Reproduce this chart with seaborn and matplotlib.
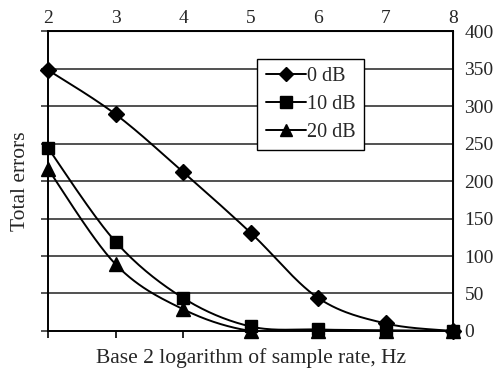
import numpy as np
import pandas as pd
import seaborn as sns
import matplotlib.pyplot as plt
from matplotlib.lines import Line2D

# Values
log_rate = [2, 3, 4, 5, 6, 7, 8]
errors_0db = [348, 289, 212, 131, 44, 10, 0]
errors_10db = [244, 119, 44, 6, 2, 1, 0]
errors_20db = [216, 89, 29, 0, 0, 0, 0]
series_names = ["0 dB", "10 dB", "20 dB"]
y_ticks = [0, 50, 100, 150, 200, 250, 300, 350, 400]

sns.set_style("white")
plt.rcParams["font.family"] = ["Liberation Serif", "DejaVu Serif"]


def smooth(xs, ys, n=30):
    # Excel-style smoothed line: cubic bezier segments with 1/6 tangents
    xs = np.asarray(xs, float)
    ys = np.asarray(ys, float)
    px = np.concatenate([[xs[0]], xs, [xs[-1]]])
    py = np.concatenate([[ys[0]], ys, [ys[-1]]])
    out_x, out_y = [], []
    t = np.linspace(0, 1, n)
    for i in range(1, len(px) - 2):
        x0, x1, x2, x3 = px[i - 1], px[i], px[i + 1], px[i + 2]
        y0, y1, y2, y3 = py[i - 1], py[i], py[i + 1], py[i + 2]
        c1x, c1y = x1 + (x2 - x0) / 6, y1 + (y2 - y0) / 6
        c2x, c2y = x2 - (x3 - x1) / 6, y2 - (y3 - y1) / 6
        bx = (1 - t) ** 3 * x1 + 3 * (1 - t) ** 2 * t * c1x + 3 * (1 - t) * t ** 2 * c2x + t ** 3 * x2
        by = (1 - t) ** 3 * y1 + 3 * (1 - t) ** 2 * t * c1y + 3 * (1 - t) * t ** 2 * c2y + t ** 3 * y2
        out_x.extend(bx)
        out_y.extend(by)
    return np.array(out_x), np.array(out_y)


df = pd.DataFrame({
    "rate": log_rate * 3,
    "errors": errors_0db + errors_10db + errors_20db,
    "snr": [s for s in series_names for _ in log_rate],
})

markers = {"0 dB": "D", "10 dB": "s", "20 dB": "^"}
sizes = {"0 dB": 8, "10 dB": 9, "20 dB": 10}
fs_tick = 14
fs_label = 15.5

fig = plt.figure(figsize=(4.93, 3.74), dpi=100)
ax = fig.add_axes([0.0974, 0.115, 0.822, 0.802])

# gridlines
for v in y_ticks[1:-1]:
    ax.axhline(v, color="#222222", lw=1.1, zorder=1)

for name in series_names:
    sub = df[df["snr"] == name]
    sx, sy = smooth(sub["rate"], sub["errors"])
    sns.lineplot(x=sx, y=sy, sort=False, color="black", lw=1.4, ax=ax, zorder=3)
    ax.plot(sub["rate"], sub["errors"], linestyle="none", marker=markers[name],
            ms=sizes[name], color="black", zorder=4, clip_on=False)

ax.set_xlim(2, 8)
ax.set_ylim(0, 400)
ax.set_xticks(log_rate)
ax.set_yticks(y_ticks)
ax.tick_params(axis="x", bottom=True, labelbottom=False, length=5, width=1.4, direction="out")
ax.tick_params(axis="y", left=True, labelleft=False, length=5, width=1.1, direction="out")
for sp in ax.spines.values():
    sp.set_color("black")
    sp.set_linewidth(1.4)
ax.set_xlabel("Base 2 logarithm of sample rate, Hz", fontsize=fs_label, labelpad=7)
ax.set_ylabel("Total errors", fontsize=fs_label, labelpad=8)

top = ax.secondary_xaxis("top")
top.set_xticks(log_rate)
top.tick_params(length=0, labelsize=fs_tick, pad=3)
right = ax.secondary_yaxis("right")
right.set_yticks(y_ticks)
right.tick_params(length=0, labelsize=fs_tick, pad=8)

handles = [Line2D([0], [0], color="black", lw=1.4, marker=markers[n], ms=sizes[n] - 1)
           for n in series_names]
leg = ax.legend(handles, series_names, loc="upper left", bbox_to_anchor=(0.516, 0.907),
                borderaxespad=0, fontsize=fs_tick + 0.5, frameon=True, fancybox=False,
                framealpha=1, handlelength=2.0, handletextpad=0.05, borderpad=0.42,
                labelspacing=0.42)
leg.get_frame().set_edgecolor("black")
leg.get_frame().set_linewidth(1.0)
leg.set_zorder(5)

fig.savefig("out.png", dpi=100)
